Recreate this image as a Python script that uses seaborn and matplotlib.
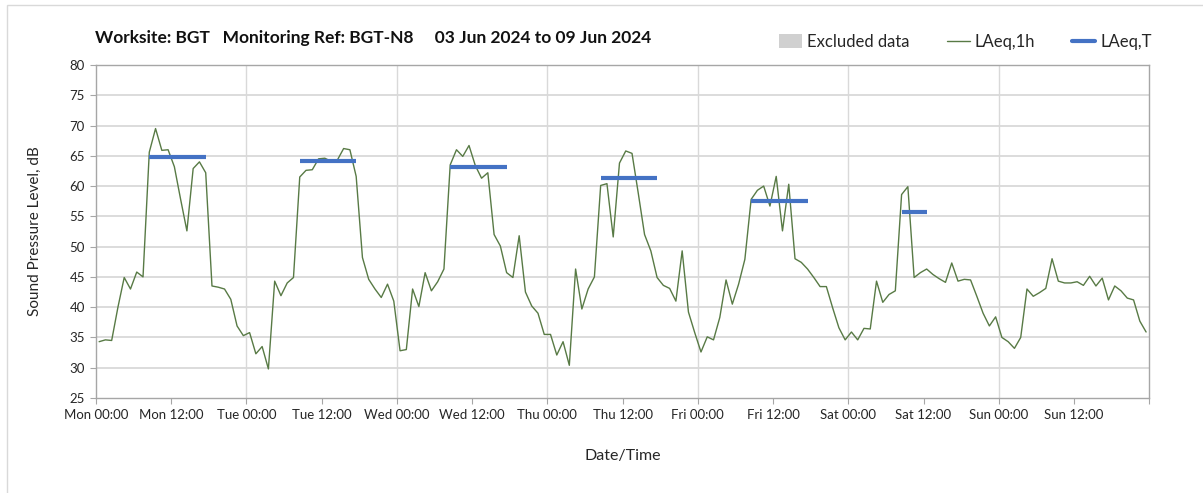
import matplotlib
matplotlib.use("Agg")
import matplotlib.pyplot as plt
from matplotlib.patches import Patch, Rectangle
from matplotlib.lines import Line2D
import seaborn as sns
import pandas as pd

# hourly LAeq,1h values, Mon 03 Jun 2024 00:00 -> Sun 09 Jun 2024 23:00
laeq_mon = [34.3, 34.6, 34.5, 40.0, 44.9, 43.0, 45.8, 45.0, 65.6, 69.5, 65.9, 66.0,
            63.2, 57.8, 52.6, 62.9, 64.0, 62.2, 43.5, 43.3, 43.0, 41.3, 36.9, 35.3]
laeq_tue = [35.8, 32.3, 33.5, 29.8, 44.3, 41.9, 44.0, 44.9, 61.5, 62.6, 62.7, 64.5,
            64.6, 64.1, 64.3, 66.2, 66.0, 61.6, 48.2, 44.6, 43.0, 41.6, 43.8, 41.0]
laeq_wed = [32.8, 33.0, 43.0, 40.1, 45.7, 42.7, 44.2, 46.3, 63.5, 66.0, 64.9, 66.7,
            63.4, 61.3, 62.2, 52.0, 50.1, 45.7, 44.9, 51.8, 42.5, 40.2, 39.0, 35.5]
laeq_thu = [35.5, 32.1, 34.3, 30.4, 46.3, 39.7, 43.0, 45.0, 60.1, 60.4, 51.6, 63.8,
            65.8, 65.4, 58.8, 52.0, 49.3, 44.9, 43.6, 43.1, 41.0, 49.3, 39.2, 35.8]
laeq_fri = [32.6, 35.1, 34.6, 38.3, 44.5, 40.5, 43.8, 47.9, 57.8, 59.3, 60.0, 56.7,
            61.6, 52.6, 60.3, 48.0, 47.4, 46.3, 44.9, 43.4, 43.4, 39.9, 36.6, 34.6]
laeq_sat = [35.9, 34.6, 36.5, 36.4, 44.3, 40.8, 42.1, 42.7, 58.6, 59.9, 44.9, 45.7,
            46.3, 45.4, 44.7, 44.1, 47.3, 44.3, 44.6, 44.5, 41.8, 39.0, 36.9, 38.4]
laeq_sun = [35.0, 34.3, 33.2, 35.0, 43.0, 41.8, 42.4, 43.1, 48.0, 44.3, 44.0, 44.0,
            44.2, 43.6, 45.1, 43.5, 44.8, 41.2, 43.5, 42.7, 41.5, 41.2, 37.7, 35.9]

# LAeq,T over the daytime periods
period_start = ["2024-06-03 08:00", "2024-06-04 08:00", "2024-06-05 08:00",
                "2024-06-06 08:00", "2024-06-07 08:00", "2024-06-08 08:00"]
period_end = ["2024-06-03 18:00", "2024-06-04 18:00", "2024-06-05 18:00",
              "2024-06-06 18:00", "2024-06-07 18:00", "2024-06-08 13:00"]
laeq_t = [64.8, 64.1, 63.1, 61.3, 57.6, 55.7]

title = "Worksite: BGT   Monitoring Ref: BGT-N8     03 Jun 2024 to 09 Jun 2024"

levels = laeq_mon + laeq_tue + laeq_wed + laeq_thu + laeq_fri + laeq_sat + laeq_sun
half = pd.Timedelta(minutes=30)
df = pd.DataFrame({
    "time": pd.date_range("2024-06-03 00:00", periods=len(levels), freq="h") + half,
    "level": levels,
})
per = pd.DataFrame({
    "start": pd.to_datetime(period_start) + half,
    "end": pd.to_datetime(period_end) - half,
    "level": laeq_t,
})

sns.set_theme(style="white")
plt.rcParams["font.family"] = ["Lato", "DejaVu Sans"]

green = "#587a45"
blue = "#4472c4"

fig = plt.figure(figsize=(12.03, 4.93), dpi=100)
ax = fig.add_axes([0.0798, 0.1927, 0.8755, 0.6755])

sns.lineplot(data=df, x="time", y="level", ax=ax, color=green, linewidth=1.0)
ax.hlines(per["level"], per["start"], per["end"], color=blue, linewidth=3)

x0 = pd.Timestamp("2024-06-03 00:00")
x1 = pd.Timestamp("2024-06-10 00:00")
ax.set_xlim(x0, x1)
ax.set_ylim(25, 80)
ax.set_yticks(range(25, 81, 5))

ticks = pd.date_range(x0, x1, freq="12h")
ax.set_xticks(ticks)
ax.set_xticklabels([t.strftime("%a %H:%M") for t in ticks[:-1]] + [""])

ax.grid(False)
for y in range(30, 80, 5):
    ax.axhline(y, color="#d9d9d9", linewidth=1.3, zorder=0)
for t in pd.date_range(x0, x1, freq="24h")[1:-1]:
    ax.axvline(t, color="#d9d9d9", linewidth=1.0, zorder=0)

for s in ax.spines.values():
    s.set_color("#a6a6a6")
    s.set_linewidth(1.0)
ax.tick_params(axis="both", length=4, width=0.8, color="#a6a6a6",
               labelsize=9.5, labelcolor="#262626", bottom=True, left=True, pad=4)

ax.set_xlabel("Date/Time", fontsize=11.5, color="#262626", labelpad=20)
ax.set_ylabel("Sound Pressure Level, dB", fontsize=11, color="#262626", labelpad=20)

fig.text(0.079, 0.923, title, fontsize=12.5, fontweight="bold", color="#111111",
         va="center", ha="left")

handles = [Patch(facecolor="#d0d0d0", edgecolor="none"),
           Line2D([], [], color=green, linewidth=1.0),
           Line2D([], [], color=blue, linewidth=3)]
fig.legend(handles, ["Excluded data", "LAeq,1h", "LAeq,T"], ncol=3, frameon=False,
           loc="center right", bbox_to_anchor=(0.97, 0.915), fontsize=12,
           handlelength=1.4, handleheight=0.9, columnspacing=2.2, handletextpad=0.3)

fig.patches.append(Rectangle((0.006, -0.1), 1.1, 1.09, transform=fig.transFigure,
                             fill=False, edgecolor="#d9d9d9", linewidth=1.0))

fig.savefig("out.png", dpi=100)
